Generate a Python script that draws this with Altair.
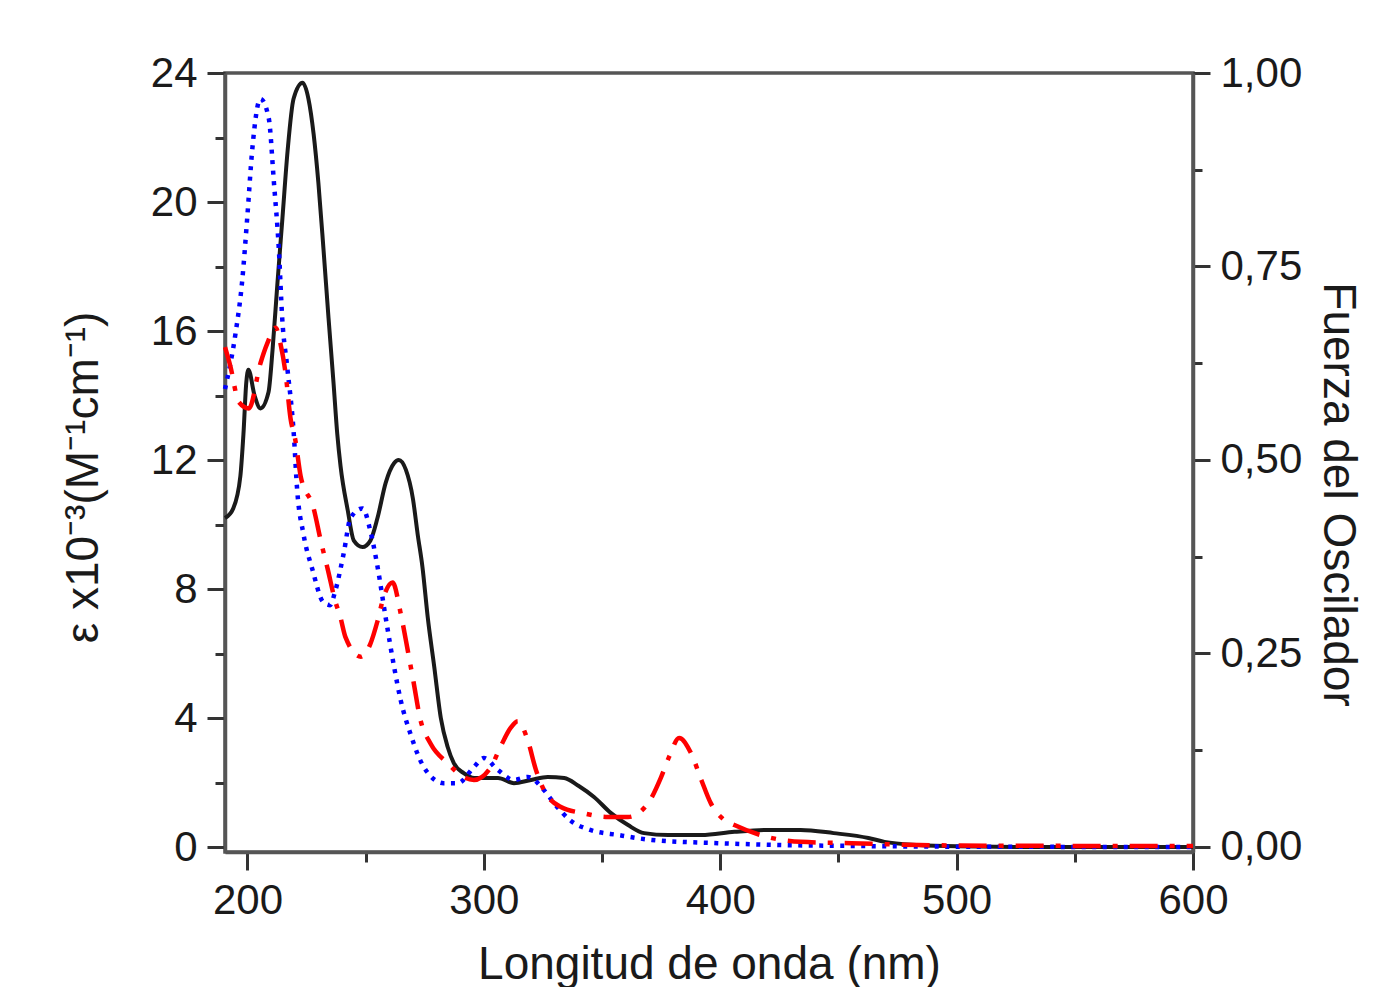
import altair as alt
import pandas as pd

# ---- data ----
wl_black = [190.5, 194, 197, 198.3, 199.5, 200.4, 203, 205.5, 208.9, 210.6, 212.7, 214.8, 217, 219.5,
            223.3, 225.8, 228, 230, 232.2, 234.3, 236.4, 238, 239.4, 242.4, 245, 248.7, 252, 255, 258.5,
            262, 264, 267, 270, 272, 274, 276.3, 279, 281.8, 284.7, 287.3, 291.5, 296, 306, 312.7, 320,
            327, 334, 340, 346.6, 353.8, 361, 367.8, 378, 392, 406, 420, 434, 448, 462.7, 469.5, 484,
            500, 530, 600]
eps_black = [10.2, 10.5, 11.5, 12.8, 14.4, 14.8, 14.0, 13.6, 14.1, 15.4, 17.5, 19.5, 21.6, 23.2,
             23.7, 23.2, 22.1, 20.6, 18.5, 16.4, 14.4, 12.8, 11.8, 10.45, 9.5, 9.3, 9.5, 10.2, 11.3,
             11.9, 12.0, 11.7, 10.8, 9.7, 8.7, 7.1, 5.6, 4.0, 3.1, 2.6, 2.29, 2.14, 2.14, 1.98, 2.08,
             2.17, 2.14, 1.9, 1.55, 1.05, 0.68, 0.43, 0.37, 0.37, 0.47, 0.53, 0.53, 0.43, 0.28, 0.16, 0.06,
             0.02, 0.0, 0.0]

wl_blue = [190.5, 194.9, 197.7, 199.9, 202, 205.5, 209, 211.2, 213.3, 214.7, 216.8, 219.6, 221, 223.7,
           227.5, 232, 235, 237, 240.7, 243.6, 248.7, 252, 255, 258.5, 262, 264.8, 269, 274.6, 283, 289,
           295.8, 300, 305.9, 312.7, 318.6, 325.4, 329.7, 337, 345, 357, 371, 399, 427, 460, 500, 600]
eps_blue = [14.2, 15.9, 17.5, 19.5, 21.6, 23.2, 22.6, 20.6, 18.5, 16.4, 14.9, 12.8, 11.1, 9.7,
            8.6, 7.6, 7.5, 7.9, 9.1, 10.2, 10.5, 9.8, 8.7, 7.1, 5.6, 4.56, 3.5, 2.48, 1.98, 1.98,
            2.48, 2.76, 2.39, 2.08, 2.17, 1.77, 1.36, 0.8, 0.53, 0.37, 0.22, 0.12, 0.06, 0.03, 0.01, 0.0]

wl_red = [190.5, 192.8, 196.3, 200.6, 205.5, 208.3, 211.9, 214, 216.1, 218.2, 220.3, 222.5, 228, 231,
          234, 237, 239.4, 241.5, 248, 252, 255, 257.6, 261.4, 264.8, 267.8, 270.3, 273, 277.5, 284.7,
          291.5, 295.8, 303, 307, 311.4, 314.4, 318.6, 322, 325.4, 332.6, 342, 352.5, 361, 369.5, 375,
          378.4, 382.6, 387.7, 392, 396, 401.7, 406, 420, 434, 455.5, 484, 520, 600]
eps_red = [15.5, 14.9, 13.8, 13.6, 15.0, 15.6, 16.1, 15.6, 14.7, 13.3, 12.6, 11.5, 10.5, 9.5,
           8.6, 7.66, 7.1, 6.5, 5.9, 6.3, 7.0, 7.75, 8.2, 7.25, 6.1, 5.1, 4.0, 3.2, 2.6,
           2.17, 2.08, 2.48, 3.1, 3.7, 3.9, 3.3, 2.4, 1.77, 1.24, 1.05, 0.93, 0.93, 1.36, 2.17,
           2.8, 3.38, 2.9, 2.08, 1.36, 0.84, 0.68, 0.31, 0.16, 0.12, 0.06, 0.04, 0.03]

x_ticks = [200, 250, 300, 350, 400, 450, 500, 550, 600]
y_ticks = [0, 2, 4, 6, 8, 10, 12, 14, 16, 18, 20, 22, 24]
f_ticks = [0, 0.125, 0.25, 0.375, 0.5, 0.625, 0.75, 0.875, 1.0]
f_range = [0.0, 1.0]

x_title = "Longitud de onda (nm)"
y_title = "ε x10⁻³(M⁻¹cm⁻¹)"
f_title = "Fuerza del Oscilador"

# ---- tables ----
df_black = pd.DataFrame({"wl": wl_black, "eps": eps_black})
df_blue = pd.DataFrame({"wl": wl_blue, "eps": eps_blue})
df_red = pd.DataFrame({"wl": wl_red, "eps": eps_red})
df_f = pd.DataFrame({"wl": [600, 600], "f": f_range})

FONT = "Liberation Sans"
AX = "#555555"

xscale = alt.Scale(domain=[190.5, 600], nice=False, zero=False)
yscale = alt.Scale(domain=[-0.155, 24], nice=False, zero=False)
fscale = alt.Scale(domain=[-0.0065, 1.0], nice=False, zero=False)

xaxis = alt.Axis(
    values=x_ticks, title=x_title,
    labelExpr="datum.value % 100 === 0 ? datum.label : ''",
    tickSize={"condition": {"test": "datum.value % 100 === 0", "value": 18}, "value": 10},
    labelPadding=10, labelFlush=False, labelOverlap=False, labelBound=False,
    titleX=484, titleY=126, titleBaseline="alphabetic", titleAlign="center",
)
yaxis = alt.Axis(
    values=y_ticks, title=y_title,
    labelExpr="datum.value % 4 === 0 ? datum.label : ''",
    tickSize={"condition": {"test": "datum.value % 4 === 0", "value": 18}, "value": 10},
    labelPadding=10, labelFlush=False, labelOverlap=False, labelBound=False,
    titleX=-128, titleY=404, titleAngle=270, titleBaseline="alphabetic", titleAlign="center",
)
faxis = alt.Axis(
    orient="right", values=f_ticks, title=f_title,
    labelExpr="round(datum.value * 8) % 2 === 0 ? replace(format(datum.value, '.2f'), '.', ',') : ''",
    tickSize={"condition": {"test": "round(datum.value * 8) % 2 === 0", "value": 17}, "value": 9},
    labelPadding=10, labelFlush=False, labelOverlap=False, labelBound=False,
    titleX=130, titleY=421, titleAngle=90, titleBaseline="alphabetic", titleAlign="center",
)


def curve(df, color, width, dash=None):
    kw = dict(color=color, strokeWidth=width, interpolate="monotone")
    if dash:
        kw["strokeDash"] = dash
    return alt.Chart(df).mark_line(**kw).encode(
        x=alt.X("wl:Q", scale=xscale, axis=xaxis),
        y=alt.Y("eps:Q", scale=yscale, axis=yaxis),
    )


black = curve(df_black, "#1a1a1a", 4)
blue = curve(df_blue, "#0000ff", 4.5, [4, 6.5])
red = curve(df_red, "#ff0000", 4.5, [28, 12, 5, 12])

eps_layer = alt.layer(black, blue, red)

f_layer = alt.Chart(df_f).mark_point(opacity=0).encode(
    x=alt.X("wl:Q", scale=xscale, axis=xaxis),
    y=alt.Y("f:Q", scale=fscale, axis=faxis),
)

chart = alt.layer(eps_layer, f_layer).resolve_scale(y="independent").properties(
    width=968, height=779,
    padding={"left": 217, "top": 65, "right": 176, "bottom": 135},
    autosize=alt.AutoSizeParams(type="none"),
    background="white",
).configure_view(
    stroke=AX, strokeWidth=3.5,
).configure_axis(
    domainColor=AX, domainWidth=3.5,
    tickColor="#333333", tickWidth=3,
    labelFont=FONT, labelFontSize=42, labelColor="#1a1a1a",
    titleFont=FONT, titleFontSize=46, titleFontWeight="normal", titleColor="#1a1a1a",
    grid=False,
)

chart.save("out.html", embed_options={"renderer": "svg", "actions": False})
